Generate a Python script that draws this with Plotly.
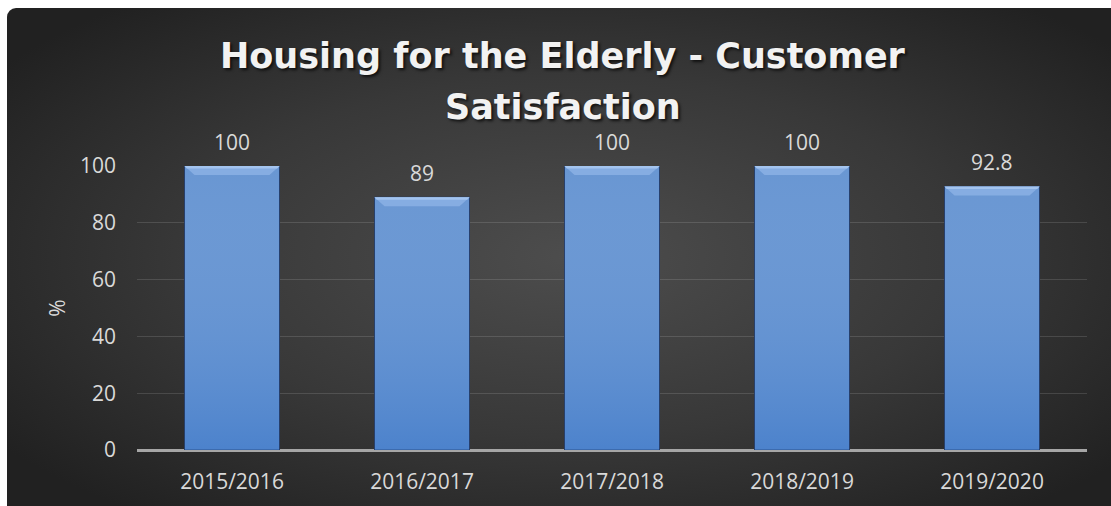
import base64
import plotly.graph_objects as go

# Survey results per financial year
years = ["2015/2016", "2016/2017", "2017/2018", "2018/2019", "2019/2020"]
satisfaction = [100, 89, 100, 100, 92.8]
y_ticks = [0, 20, 40, 60, 80, 100]
title_lines = ["Housing for the Elderly - Customer", "Satisfaction"]

W, H = 1111, 506
L, R, T, B = 137, 24, 166, 56
plot_w = W - L - R
plot_h = H - T - B
BAR_W = 0.5

# dark radial backdrop; only the top-left corner is rounded, the rest runs off the page
BW, BH = W - 7 + 30, H - 8 + 30
svg = f"""<svg xmlns='http://www.w3.org/2000/svg' width='{BW}' height='{BH}' viewBox='0 0 {BW} {BH}'>
<defs><radialGradient id='g' cx='0.5' cy='0.47' r='0.62'>
<stop offset='0' stop-color='#4d4d4d'/><stop offset='0.55' stop-color='#383838'/><stop offset='1' stop-color='#212121'/>
</radialGradient></defs>
<rect x='0' y='0' width='{BW}' height='{BH}' rx='9' ry='9' fill='url(#g)'/>
</svg>"""
bg_src = "data:image/svg+xml;base64," + base64.b64encode(svg.encode()).decode()

label_font = dict(family="Open Sans", size=21, color="#d9d9d9")
title_font = dict(family="DejaVu Sans", size=35, weight="bold", color="#f2f2f2",
                  shadow="2px 2px 3px rgba(0,0,0,0.7)")

fig = go.Figure()
fig.add_trace(go.Bar(
    x=list(range(len(years))),
    y=satisfaction,
    width=BAR_W,
    marker=dict(color="#5a8cce", line=dict(color="rgba(35,60,105,0.9)", width=1)),
    hoverinfo="skip",
))

# vertical shading laid over each bar (lighter at the top, deeper blue at the base)
sx, sy = [], []
for i, v in enumerate(satisfaction):
    x0, x1 = i - BAR_W / 2 + 0.003, i + BAR_W / 2 - 0.003
    sx += [x0, x1, x1, x0, x0, None]
    sy += [0, 0, v, v, 0, None]
fig.add_trace(go.Scatter(
    x=sx, y=sy, mode="none", fill="toself", hoverinfo="skip",
    fillgradient=dict(type="vertical", start=0, stop=100,
                      colorscale=[[0, "rgba(50,112,200,0.35)"], [1, "rgba(255,255,255,0.09)"]]),
))

# value labels above the bars
for i, v in enumerate(satisfaction):
    fig.add_annotation(x=i, y=v, text=f"{v:g}", showarrow=False, xref="x", yref="y",
                       yanchor="bottom", yshift=8, font=label_font)

# bevelled tops on each bar
px_per_unit = plot_h / 100.0
bevel_h = 9 / px_per_unit
inset = 10 / (plot_w / len(years))
for i, v in enumerate(satisfaction):
    x0, x1 = i - BAR_W / 2, i + BAR_W / 2
    fig.add_shape(type="path", xref="x", yref="y",
                  path=f"M {x0},{v} L {x1},{v} L {x1-inset},{v-bevel_h} L {x0+inset},{v-bevel_h} Z",
                  fillcolor="#86ade2", line=dict(width=0), layer="above")
    fig.add_shape(type="path", xref="x", yref="y",
                  path=f"M {x0},{v} L {x1},{v} L {x1-0.012},{v-2.5/px_per_unit} L {x0+0.012},{v-2.5/px_per_unit} Z",
                  fillcolor="#a3c4ef", line=dict(width=0), layer="above")

# two-line chart heading
for line, y_px in zip(title_lines, [56, 107]):
    fig.add_annotation(text=f"<b>{line}</b>", showarrow=False,
                       xref="paper", yref="paper",
                       x=(563 - L) / plot_w, y=1 + (T - y_px) / plot_h,
                       xanchor="center", yanchor="middle", font=title_font)

fig.add_layout_image(dict(
    source=bg_src, xref="paper", yref="paper",
    x=(7 - L) / plot_w, y=1 + (T - 8) / plot_h,
    sizex=BW / plot_w, sizey=BH / plot_h,
    xanchor="left", yanchor="top", sizing="stretch", layer="below",
))

fig.update_layout(
    width=W, height=H,
    margin=dict(l=L, r=R, t=T, b=B),
    paper_bgcolor="white",
    plot_bgcolor="rgba(0,0,0,0)",
    showlegend=False,
    xaxis=dict(
        tickmode="array", tickvals=list(range(len(years))), ticktext=years,
        range=[-0.5, len(years) - 0.5],
        showgrid=False, zeroline=False, showline=False,
        tickfont=label_font, ticks="", ticklabelstandoff=17,
    ),
    yaxis=dict(
        range=[0, 100], tickvals=y_ticks,
        showgrid=True, gridcolor="rgba(255,255,255,0.13)", gridwidth=1,
        zeroline=True, zerolinecolor="#a6a6a6", zerolinewidth=3,
        showline=False, ticks="", ticklabelstandoff=20,
        tickfont=label_font,
        title=dict(text="%", font=label_font, standoff=8),
    ),
)

fig.write_html("out.html")
